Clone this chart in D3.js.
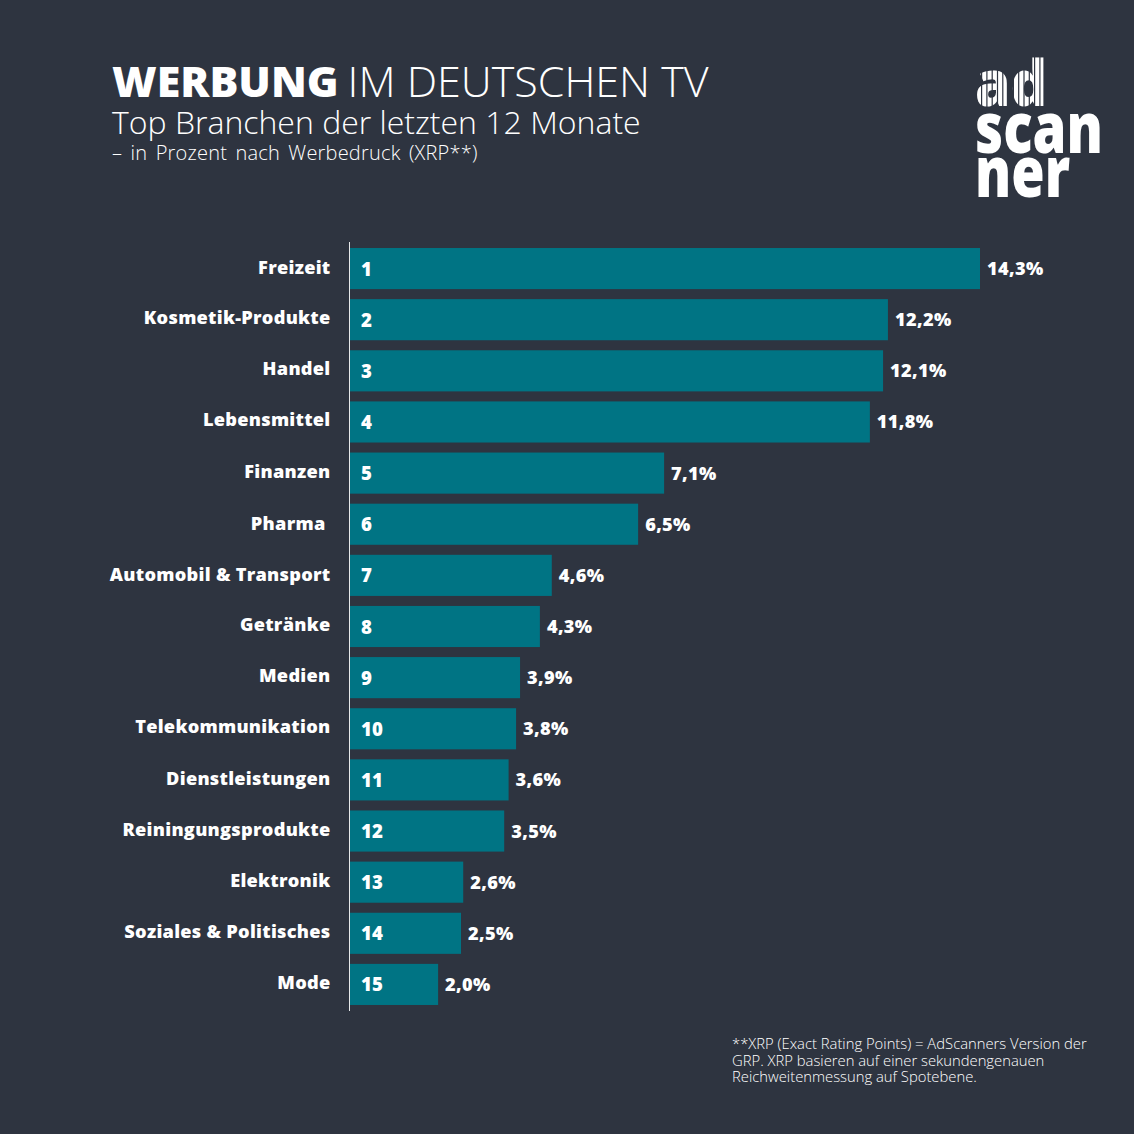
<!DOCTYPE html>
<html><head><meta charset="utf-8">
<script src="https://cdnjs.cloudflare.com/ajax/libs/d3/7.8.5/d3.min.js"></script>
<style>
html,body{margin:0;padding:0;background:#2e3440}
svg{display:block}
text{font-family:"Open Sans",sans-serif;fill:#fff}
</style></head><body>
<svg id="c" width="1134" height="1134"></svg>
<script>
const categories=["Freizeit","Kosmetik-Produkte","Handel","Lebensmittel","Finanzen","Pharma ","Automobil & Transport","Getränke","Medien","Telekommunikation","Dienstleistungen","Reiningungsprodukte","Elektronik","Soziales & Politisches","Mode"];
const values=[14.3,12.21,12.1,11.8,7.13,6.54,4.58,4.31,3.86,3.77,3.6,3.5,2.57,2.52,2.0];
const ranks=d3.range(1,16);
const footnote=["**XRP (Exact Rating Points) = AdScanners Version der","GRP. XRP basieren auf einer sekundengenauen","Reichweitenmessung auf Spotebene."];

const svg=d3.select("#c");
svg.append("rect").attr("width",1134).attr("height",1134).attr("fill","#2e3440");

const x=d3.scaleLinear().domain([0,14.3]).range([350,980]);
const y=d3.scaleBand().domain(categories).range([243,1010]).paddingInner(0.196).paddingOuter(0.098);
const fmt=v=>v.toFixed(1).replace(".",",")+"%";

const g=svg.append("g");
g.selectAll("rect.bar").data(values).join("rect").attr("class","bar")
 .attr("x",x(0)).attr("y",(d,i)=>y(categories[i])).attr("width",d=>x(d)-x(0)).attr("height",y.bandwidth()).attr("fill","#007484");
g.append("line").attr("x1",349.5).attr("x2",349.5).attr("y1",242).attr("y2",1011).attr("stroke","#e6e8ea").attr("stroke-width",1);

const labelDy=[-1,-2,-2,-2,-2,-1,-1,-2,-2,-2,-1,-2,-2,-2,-2];
g.selectAll("text.cat").data(categories).join("text").attr("class","cat")
 .attr("x",330.5).attr("y",(d,i)=>y(d)+y.bandwidth()/2+6.5+labelDy[i]).attr("text-anchor","end")
 .attr("font-size",18.2).attr("font-weight",800).attr("letter-spacing",0.27).style("white-space","pre").text(d=>d);
g.selectAll("text.rank").data(ranks).join("text").attr("class","rank")
 .attr("x",361).attr("y",(d,i)=>y(categories[i])+y.bandwidth()/2+7)
 .attr("font-size",18.6).attr("font-weight",800).text(d=>d);
g.selectAll("text.val").data(values).join("text").attr("class","val")
 .attr("x",d=>x(d)+7).attr("y",(d,i)=>y(categories[i])+y.bandwidth()/2+6.5)
 .attr("font-size",18.2).attr("font-weight",800).attr("letter-spacing",0.35).text(fmt);

const t=svg.append("text").attr("x",112).attr("y",97).attr("font-size",43);
t.append("tspan").attr("font-weight",800).text("WERBUNG");
t.append("tspan").attr("font-weight",300).attr("dx",9).text("IM DEUTSCHEN TV");
svg.append("text").attr("x",112).attr("y",134).attr("font-size",32).attr("font-weight",300).text("Top Branchen der letzten 12 Monate");
svg.append("text").attr("x",112).attr("y",160).attr("font-size",20).attr("font-weight",300).attr("letter-spacing",0.2).attr("word-spacing",3).text("– in Prozent nach Werbedruck (XRP**)");

svg.append("g").selectAll("text").data(footnote).join("text")
 .attr("x",732).attr("y",(d,i)=>1049+i*16.5).attr("font-size",14.8).attr("font-weight",300).text(d=>d);

// logo
const defs=svg.append("defs");
const m=defs.append("mask").attr("id","st").attr("maskUnits","userSpaceOnUse").attr("x",960).attr("y",20).attr("width",120).attr("height",110);
m.append("rect").attr("x",960).attr("y",20).attr("width",120).attr("height",110).attr("fill","#fff");
d3.range(981,1046,5.3).forEach(px=>m.append("rect").attr("x",px).attr("y",20).attr("width",1.2).attr("height",110).attr("fill","#000"));
svg.append("text").attr("x",975).attr("y",106).attr("font-size",64).attr("font-weight",800).attr("textLength",72).attr("lengthAdjust","spacingAndGlyphs").attr("mask","url(#st)").text("ad");
svg.append("text").attr("x",975).attr("y",153).attr("font-size",70).attr("font-weight",800).attr("textLength",128).attr("lengthAdjust","spacingAndGlyphs").text("scan");
svg.append("text").attr("x",975).attr("y",197).attr("font-size",70).attr("font-weight",800).attr("textLength",95).attr("lengthAdjust","spacingAndGlyphs").text("ner");
</script>
</body></html>
